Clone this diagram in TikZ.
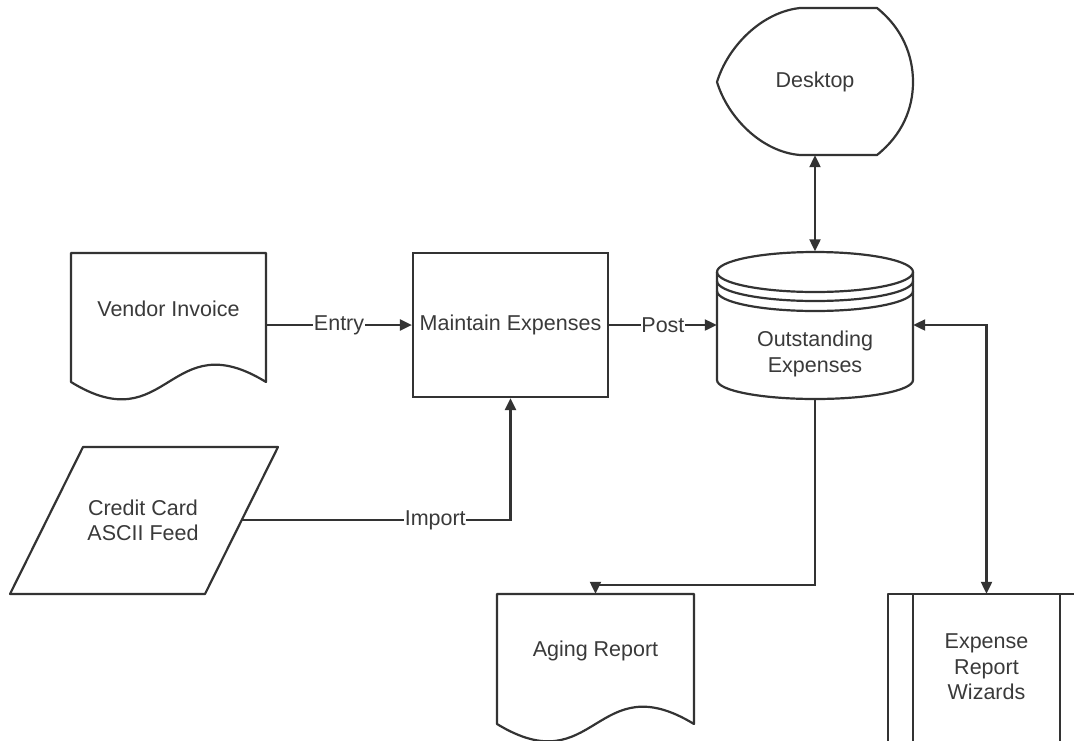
\documentclass[tikz,border=0pt]{standalone}
\usepackage{fontspec}
\setmainfont{Liberation Sans}
\usetikzlibrary{arrows.meta,calc}
\definecolor{ln}{HTML}{333333}
\definecolor{tx}{HTML}{3A3A3A}
\begin{document}
\begin{tikzpicture}[x=1pt,y=-1pt,
  line/.style={draw=ln, line width=2.2pt, line join=round},
  conn/.style={draw=ln, line width=2.2pt},
  arr/.style={-{Triangle[length=12pt,width=11pt]}},
  darr/.style={{Triangle[length=12pt,width=11pt]}-{Triangle[length=12pt,width=11pt]}},
  txt/.style={text=tx, font=\fontsize{21.5}{25.5}\selectfont, align=center, inner sep=0pt},
  lbl/.style={txt, fill=white, inner sep=0.5pt}]
\useasboundingbox[fill=white] (0,0) rectangle (1074,740);

% nodes
\node[txt, minimum width=195pt, minimum height=112pt] (vendor) at (168.5,309) {Vendor Invoice};
\node[txt, draw=ln, line width=2.2pt, minimum width=195pt, minimum height=144pt] (maint) at (510.5,325) {Maintain Expenses};
\node[txt, minimum width=196pt, minimum height=147pt] (cyl) at (815,325) {};
\node[txt] (cyltext) at (815,354) {Outstanding\\Expenses};
\node[txt, minimum width=195pt, minimum height=147pt] (desk) at (815,81.5) {Desktop};
\node[txt, minimum width=268pt, minimum height=147pt] (credit) at (143,520.5) {Credit Card\\ASCII Feed};
\coordinate (creditout) at (241.7,520);
\node[txt, minimum width=197pt, minimum height=114pt] (aging) at (595.5,651) {Aging Report};
\node[txt, minimum width=147pt, minimum height=146pt] (wiz) at (986.5,667) {Expense\\Report\\Wizards};

% shapes
\draw[line] (71,253) -- (266,253) -- (266,382) .. controls (168.5,322) and (168.5,442) .. (71,382) -- cycle;
\draw[line] (497,594) -- (694,594) -- (694,724) .. controls (595.5,664) and (595.5,784) .. (497,724) -- cycle;
\draw[line] (83,447) -- (278,447) -- (205,594) -- (10,594) -- cycle;
\draw[line] (800,8) -- (877,8) .. controls (902,28) and (913,55) .. (913,82)
  .. controls (913,109) and (902,135) .. (877,155) -- (800,155)
  .. controls (762,152) and (728,118) .. (717,82)
  .. controls (728,46) and (762,12) .. cycle;
\draw[line] (717,272) -- (717,380) arc[start angle=180, end angle=360, x radius=98pt, y radius=19pt] -- (913,272);
\draw[line] (815,272) ellipse [x radius=98pt, y radius=20pt];
\draw[line] (717,281) arc[start angle=180, end angle=360, x radius=98pt, y radius=20pt];
\draw[line] (717,291) arc[start angle=180, end angle=360, x radius=98pt, y radius=20pt];
\draw[line] (888,745) -- (888,594) -- (1080,594);
\draw[line] (913,745) -- (913,594);
\draw[line] (1060,745) -- (1060,594);

% connectors
\draw[conn, arr] (vendor.east |- maint.west) -- node[lbl]{Entry} (maint.west);
\draw[conn, arr] (maint.east) -- node[lbl]{Post} (cyl.west);
\draw[conn, arr] (creditout) -- node[lbl, pos=0.72]{Import} (creditout -| maint.south) -- (maint.south);
\draw[conn, darr] (desk.south) -- (cyl.north);
\draw[conn, arr] (cyl.south) -- ++(0,186) -| (aging.north);
\draw[conn, darr] (cyl.east) -| (wiz.north);
\end{tikzpicture}
\end{document}
